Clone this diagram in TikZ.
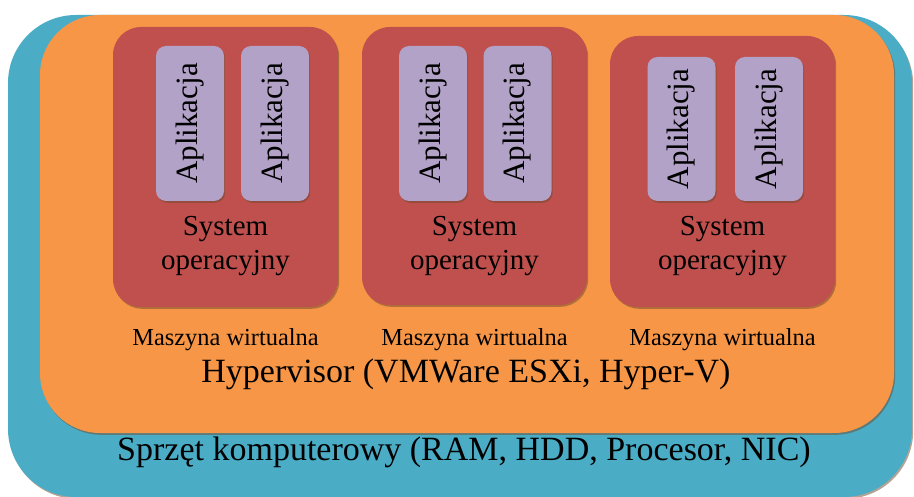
\documentclass[tikz,border=0pt]{standalone}
\usepackage{fontspec}
\setmainfont{LiberationSerif}[Extension=.ttf, UprightFont=*-Regular, BoldFont=*-Bold]
\usetikzlibrary{shadows}
\definecolor{hwteal}{HTML}{4BACC6}
\definecolor{hvorange}{HTML}{F79646}
\definecolor{vmred}{HTML}{C0504D}
\definecolor{applilac}{HTML}{B3A2C7}
\definecolor{boxshade}{HTML}{6B4A2E}
\tikzset{
  layer/.style={draw=none, inner sep=0pt, outer sep=0pt,
    drop shadow={shadow xshift=0.6pt, shadow yshift=-0.9pt, opacity=0.5, fill=boxshade}},
  hwbox/.style={layer, fill=hwteal, rounded corners=34pt},
  hvbox/.style={layer, fill=hvorange, rounded corners=30pt},
  vmbox/.style={layer, fill=vmred, rounded corners=14pt, minimum width=112.5pt},
  appbox/.style={layer, fill=applilac, rounded corners=5pt, minimum width=34pt},
  apptext/.style={rotate=90, font=\fontsize{15.5}{18}\selectfont},
  ostext/.style={align=center, font=\fontsize{14.5}{17}\selectfont},
  vmtext/.style={font=\fontsize{12.2}{14}\selectfont},
  bigtext/.style={font=\fontsize{17}{20}\selectfont}
}
\begin{document}
\begin{tikzpicture}[x=0.5pt,y=-0.5pt]
  \useasboundingbox (0,0) rectangle (914,497);
  % sprzet i hypervisor
  \node[hwbox, minimum width=452pt, minimum height=241pt] (hw) at (460,256) {};
  \node[hvbox, minimum width=427pt, minimum height=209pt] (hv) at (467,224) {};
  \node[bigtext] (hwlabel) at (464,452) {Sprzęt komputerowy (RAM, HDD, Procesor, NIC)};
  \node[bigtext] (hvlabel) at (466,374) {Hypervisor (VMWare ESXi, Hyper-V)};
  % maszyny wirtualne
  \foreach \vm/\cx/\cy/\vh/\ax/\bx/\ay/\ah in {1/225.5/167/140/190/275/123.5/77.5,
      2/474.5/166/139/433/517.5/123.5/77.5, 3/722.5/171.5/135.5/681.5/769/129/72} {
      \node[vmbox, minimum height=\vh pt] (vm\vm) at (\cx,\cy) {};
      \node[appbox, minimum height=\ah pt] (app\vm-1) at (\ax,\ay) {};
      \node[appbox, minimum height=\ah pt] (app\vm-2) at (\bx,\ay) {};
      \node[apptext] (apptext\vm-1) at (app\vm-1) {Aplikacja};
      \node[apptext] (apptext\vm-2) at (app\vm-2) {Aplikacja};
      \node[ostext] (os\vm) at (\cx,246) {System\\operacyjny};
      \node[vmtext] (vmlabel\vm) at (\cx,340) {Maszyna wirtualna};
  }
\end{tikzpicture}
\end{document}
